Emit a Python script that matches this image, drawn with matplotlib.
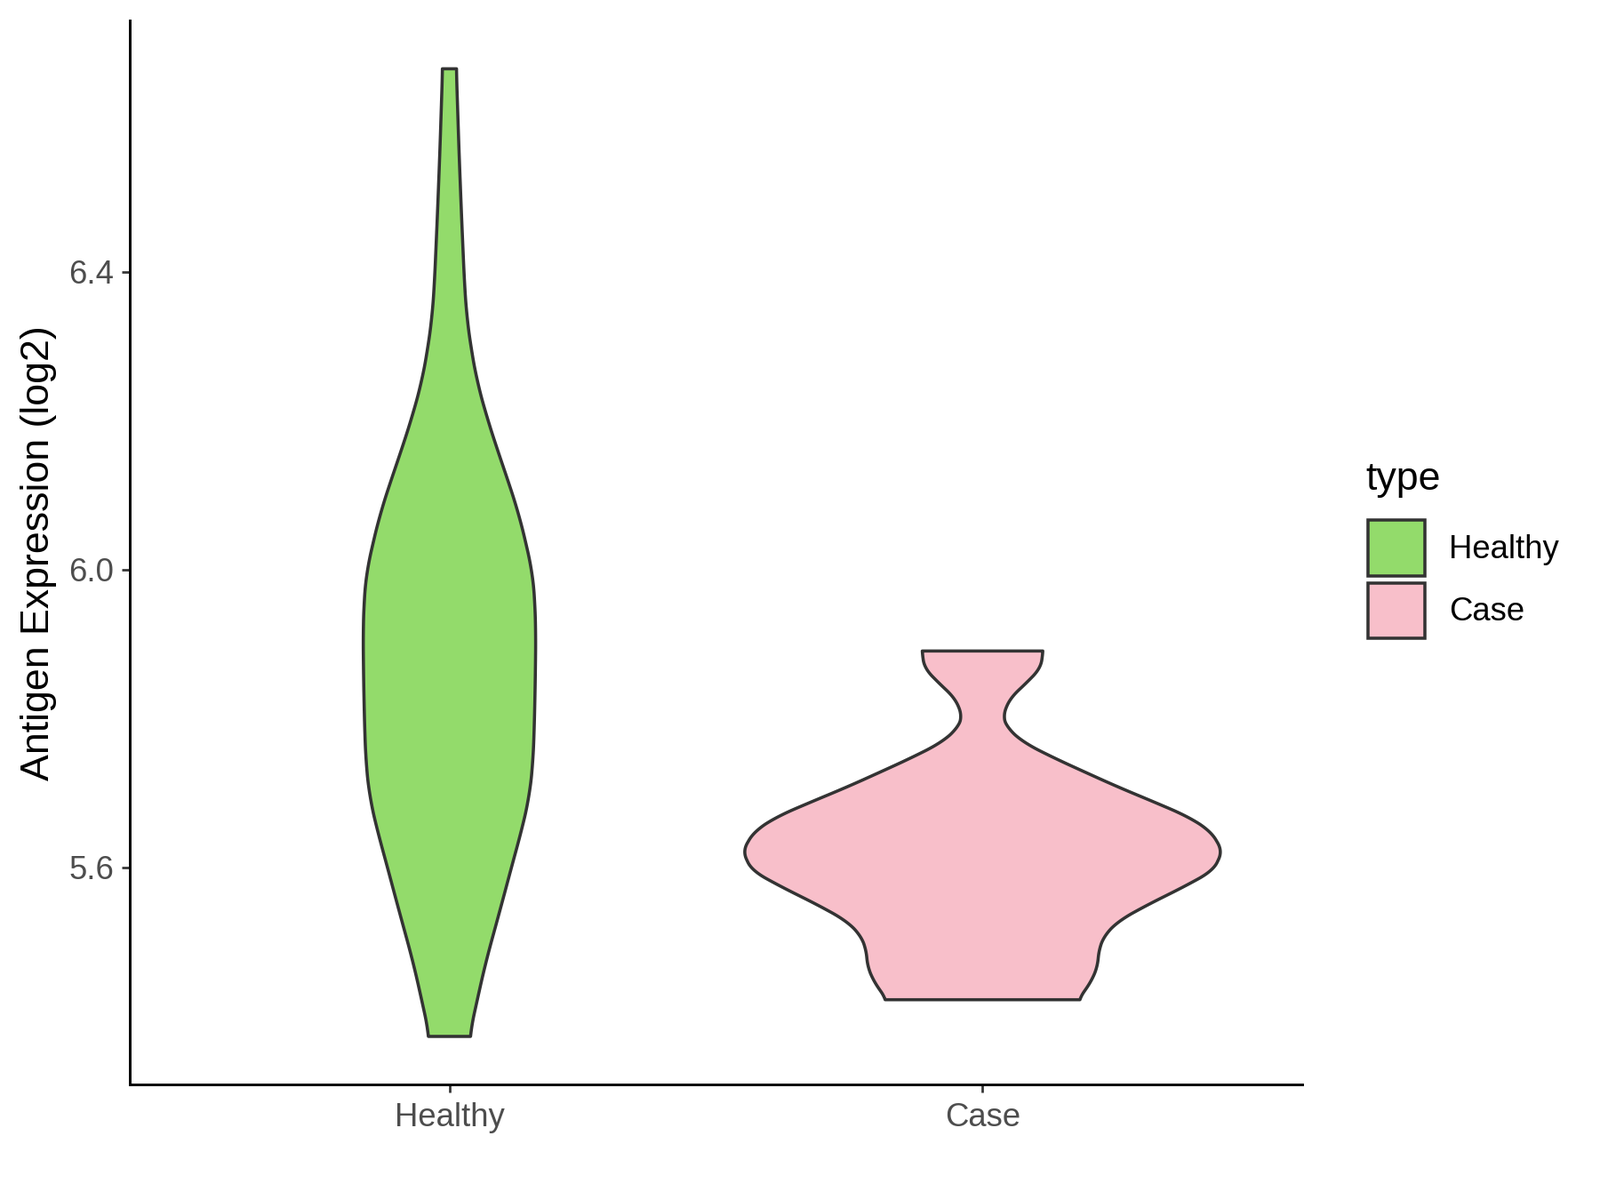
import matplotlib.pyplot as plt
import numpy as np
from matplotlib.patches import Patch

# violin outlines: y value and half-width (in x units)
groups = ["Healthy", "Case"]
colors = ["#93DB6B", "#F8BFCA"]

healthy_y = [6.6726, 6.5608, 6.4725, 6.3841, 6.340, 6.2958, 6.2516, 6.2074,
             6.1633, 6.119, 6.0749, 6.0307, 5.995, 5.960, 5.916, 5.850, 5.784,
             5.739, 5.695, 5.651, 5.607, 5.5625, 5.518, 5.474, 5.4297, 5.3726]
healthy_hw = [0.0129, 0.018, 0.0228, 0.0282, 0.0324, 0.0408, 0.0521, 0.069,
              0.0887, 0.110, 0.130, 0.145, 0.156, 0.160, 0.162, 0.161, 0.159,
              0.1565, 0.150, 0.136, 0.119, 0.1025, 0.0856, 0.0687, 0.0546, 0.0372]

case_y = [5.8904, 5.8673, 5.8473, 5.8273, 5.8033, 5.7874, 5.7674, 5.7474,
          5.7274, 5.7074, 5.6875, 5.6675, 5.6475, 5.6216, 5.5956, 5.5756,
          5.5477, 5.5277, 5.5077, 5.4877, 5.4677, 5.4478, 5.4219]
case_hw = [0.1136, 0.109, 0.082, 0.052, 0.038, 0.046, 0.077, 0.132, 0.193,
           0.255, 0.322, 0.387, 0.429, 0.450, 0.433, 0.383, 0.305, 0.255,
           0.228, 0.218, 0.216, 0.205, 0.180]

yticks = [5.6, 6.0, 6.4]


def smooth_outline(ys, hws, n=400, k=9):
    ys = np.asarray(ys)[::-1]
    hws = np.asarray(hws)[::-1]
    yy = np.linspace(ys[0], ys[-1], n)
    ww = np.interp(yy, ys, hws)
    pad = np.pad(ww, k, mode="edge")
    ww = np.convolve(pad, np.ones(2 * k + 1) / (2 * k + 1), mode="same")[k:-k]
    return yy, ww


plt.rcParams["font.family"] = ["Liberation Sans", "DejaVu Sans"]
fig = plt.figure(figsize=(12, 9), dpi=150)
ax = fig.add_axes([0.081, 0.096, 0.733, 0.887])

outlines = [(healthy_y, healthy_hw), (case_y, case_hw)]
for i, ((ys, hws), col) in enumerate(zip(outlines, colors)):
    pos = i + 1
    yy, ww = smooth_outline(ys, hws)
    xs = np.concatenate([pos - ww, (pos + ww)[::-1]])
    ys_all = np.concatenate([yy, yy[::-1]])
    ax.fill(xs, ys_all, facecolor=col, edgecolor="#333333", linewidth=1.7,
            joinstyle="round")

ax.set_xlim(0.4, 2.6)
ax.set_ylim(5.3076, 6.7376)
ax.set_xticks([1, 2])
ax.set_xticklabels(groups)
ax.set_yticks(yticks)
ax.set_yticklabels([f"{v:.1f}" for v in yticks])

for s in ["top", "right"]:
    ax.spines[s].set_visible(False)
for s in ["left", "bottom"]:
    ax.spines[s].set_linewidth(1.4)
ax.tick_params(axis="both", length=4.5, width=1.3, color="#333333",
               labelsize=17.5, labelcolor="#4D4D4D", pad=4)
ax.tick_params(axis="x", pad=5)
ax.set_ylabel("Antigen Expression (log2)", fontsize=21.5)
ax.yaxis.set_label_coords(-0.062, 0.5)

# legend: title drawn on its own so the gap above the keys matches
fig.text(0.8533, 0.6003, "type", fontsize=21.5, ha="left", va="center")
handles = [Patch(facecolor=c, edgecolor="#333333", linewidth=1.7, label=g)
           for g, c in zip(groups, colors)]
leg = fig.legend(handles=handles, loc="upper left",
                 bbox_to_anchor=(0.855, 0.5663), frameon=False, fontsize=17.5,
                 handlelength=1.75, handleheight=2.27,
                 labelspacing=0.2, handletextpad=0.75, borderaxespad=0,
                 borderpad=0)

fig.savefig("out.png", dpi=150)
